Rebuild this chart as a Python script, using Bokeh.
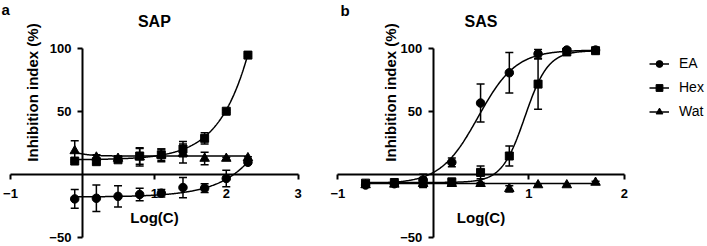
import numpy as np
from bokeh.plotting import figure
from bokeh.models import (ColumnDataSource, Whisker, TeeHead, Label, Legend,
                          LegendItem, FixedTicker)
from bokeh.layouts import row
from bokeh.embed import file_html
from bokeh.resources import INLINE

# ---------------- data ----------------
series_names = ["EA", "Hex", "Wat"]

# Panel a: SAP
sap_log_c = [-0.107, 0.194, 0.495, 0.796, 1.097, 1.398, 1.699, 2.0, 2.301]
sap_ea = [-19.0, -18.5, -17.0, -15.5, -14.5, -10.0, -10.5, -2.8, 10.0]
sap_ea_err = [7.5, 10.5, 8.5, 5.0, 3.0, 8.0, 3.5, 6.5, 1.0]
sap_hex = [11.0, 10.5, 12.0, 15.0, 16.0, 20.5, 29.0, 50.5, 95.0]
sap_hex_err = [1.0, 1.5, 2.0, 6.5, 4.5, 6.0, 4.5, 1.0, 1.0]
sap_wat = [19.0, 14.0, 13.0, 14.0, 15.5, 17.0, 13.0, 13.0, 13.5]
sap_wat_err = [8.0, 2.0, 2.0, 7.0, 5.0, 7.5, 5.0, 1.0, 1.0]
# fitted curves: bottom, top, logEC50, hill slope
sap_fit_ea = [-17.5, 1000.0, 3.85, 1.0]
sap_fit_hex = [12.0, 1000.0, 3.2, 1.15]
sap_fit_wat = [15.0, 30.0, -0.3, -3.0]

# Panel b: SAS
sas_log_c = [-0.709, -0.408, -0.107, 0.194, 0.495, 0.796, 1.097, 1.398, 1.699]
sas_ea = [-8.0, -7.0, -4.0, 10.0, 57.0, 81.0, 96.0, 99.0, 99.0]
sas_ea_err = [1.0, 1.0, 4.5, 3.5, 15.0, 16.0, 3.5, 1.0, 1.0]
sas_hex = [-6.5, -6.0, -6.0, -5.5, 2.0, 15.0, 72.0, 97.5, 98.5]
sas_hex_err = [1.0, 1.0, 4.0, 2.0, 5.0, 8.0, 20.0, 1.0, 1.0]
sas_wat = [-8.0, -7.5, -7.0, -7.0, -7.0, -11.0, -8.0, -8.0, -6.0]
sas_wat_err = [1.0, 1.0, 1.0, 1.0, 1.0, 2.5, 1.0, 1.0, 1.0]
sas_fit_ea = [-7.0, 99.0, 0.47, 2.2]
sas_fit_hex = [-6.0, 98.5, 0.96, 3.6]
sas_fit_wat = [-6.8, -6.8, 0.5, 1.0]

x_ticks_sap = [-1, 1, 2, 3]
x_ticks_sas = [-1, 1, 2]
y_ticks = [-50, 50, 100]
y_bounds = (-50, 100)

markers = {"EA": "circle", "Hex": "square", "Wat": "triangle"}
marker_sizes = {"EA": 8.5, "Hex": 8, "Wat": 9.5}

FONT = "Liberation Sans"
HEIGHT = 245
Y_VIEW = (-55.95, 138.29)   # visible y span (axis itself is bounded to -50..100)


def four_pl(x, bottom, top, log_ec50, hill):
    return bottom + (top - bottom) / (1.0 + 10.0 ** ((log_ec50 - x) * hill))


def make_panel(title, x, values, errs, fits, x_view, x_bounds, xticks, width,
               letter, letter_x, letter_y, title_y, ylab_x, ylab_y):
    p = figure(x_range=x_view, y_range=Y_VIEW, width=width, height=HEIGHT,
               min_border=0, min_border_left=0, min_border_right=0,
               min_border_top=0, min_border_bottom=0,
               output_backend="svg", toolbar_location=None)
    p.outline_line_color = None
    p.grid.visible = False
    p.background_fill_color = "white"
    p.border_fill_color = "white"

    for ax, ticks, bnds in ((p.xaxis[0], xticks, x_bounds), (p.yaxis[0], y_ticks, y_bounds)):
        ax.fixed_location = 0
        ax.bounds = bnds
        ax.ticker = FixedTicker(ticks=ticks)
        ax.axis_line_width = 2
        ax.axis_line_color = "black"
        ax.major_tick_line_width = 2
        ax.major_tick_line_color = "black"
        ax.major_tick_out = 5
        ax.major_tick_in = 0
        ax.minor_tick_out = 0
        ax.minor_tick_in = 0
        ax.major_label_text_font = FONT
        ax.major_label_text_font_size = "13px"
        ax.major_label_text_font_style = "bold"
        ax.major_label_text_color = "black"
    p.xaxis.major_label_standoff = 9
    p.yaxis.major_label_standoff = 6
    p.xaxis.axis_label = "Log(C)"
    p.xaxis.axis_label_text_font = FONT
    p.xaxis.axis_label_text_font_size = "15px"
    p.xaxis.axis_label_text_font_style = "bold"
    p.xaxis.axis_label_text_color = "black"
    p.xaxis.axis_label_standoff = 8

    xs = np.asarray(x, dtype=float)
    xc = np.linspace(xs.min(), xs.max(), 300)
    renderers = {}
    for name in series_names:
        y = np.asarray(values[name], dtype=float)
        e = np.asarray(errs[name], dtype=float)
        src = ColumnDataSource(dict(x=xs, y=y, upper=y + e, lower=y - e))
        w = Whisker(base="x", upper="upper", lower="lower", source=src,
                    dimension="height", line_color="black", line_width=1.5,
                    upper_head=TeeHead(size=8, line_width=1.5, line_color="black"),
                    lower_head=TeeHead(size=8, line_width=1.5, line_color="black"),
                    level="underlay")
        p.add_layout(w)
        lr = p.line(xc, four_pl(xc, *fits[name]), line_color="black", line_width=1.5)
        sr = p.scatter("x", "y", source=src, marker=markers[name],
                       size=marker_sizes[name], fill_color="black", line_color="black")
        renderers[name] = (lr, sr)

    title_x = (x_bounds[0] + x_bounds[1]) / 2.0
    p.add_layout(Label(x=title_x, y=title_y, text=title, text_font=FONT,
                       text_font_size="16px", text_font_style="bold",
                       text_align="center", text_baseline="alphabetic", text_color="black"))
    p.add_layout(Label(x=letter_x, y=letter_y, text=letter, text_font=FONT,
                       text_font_size="15px", text_font_style="bold",
                       text_baseline="alphabetic", text_align="left", text_color="black"))
    p.add_layout(Label(x=ylab_x, y=ylab_y, text="Inhibition index (%)", angle=np.pi / 2,
                       text_font=FONT, text_font_size="15px", text_font_style="bold",
                       text_align="center", text_baseline="middle", text_color="black"))
    return p, renderers


pa, _ = make_panel("SAP", sap_log_c,
                   {"EA": sap_ea, "Hex": sap_hex, "Wat": sap_wat},
                   {"EA": sap_ea_err, "Hex": sap_hex_err, "Wat": sap_wat_err},
                   {"EA": sap_fit_ea, "Hex": sap_fit_hex, "Wat": sap_fit_wat},
                   (-1.13904, 3.31004), (-1, 3), x_ticks_sap, 320,
                   "a", -1.125, 131.5, 122.0, -0.694, 65.35)

pb, rb = make_panel("SAS", sas_log_c,
                    {"EA": sas_ea, "Hex": sas_hex, "Wat": sas_wat},
                    {"EA": sas_ea_err, "Hex": sas_hex_err, "Wat": sas_wat_err},
                    {"EA": sas_fit_ea, "Hex": sas_fit_hex, "Wat": sas_fit_wat},
                    (-1.18115, 2.86073), (-1, 2), x_ticks_sas, 386,
                    "b", -0.972, 130.0, 122.0, -0.448, 65.35)

legend = Legend(items=[LegendItem(label=n, renderers=list(rb[n])) for n in series_names],
                location=(329, 124), padding=0, margin=0, spacing=4,
                glyph_width=20, glyph_height=17, label_height=20, label_standoff=10,
                label_text_font=FONT, label_text_font_size="14px",
                label_text_color="black", border_line_color=None,
                background_fill_alpha=0)
pb.add_layout(legend, "center")

layout = row(pa, pb)
open("out.html", "w").write(file_html(layout, INLINE))
